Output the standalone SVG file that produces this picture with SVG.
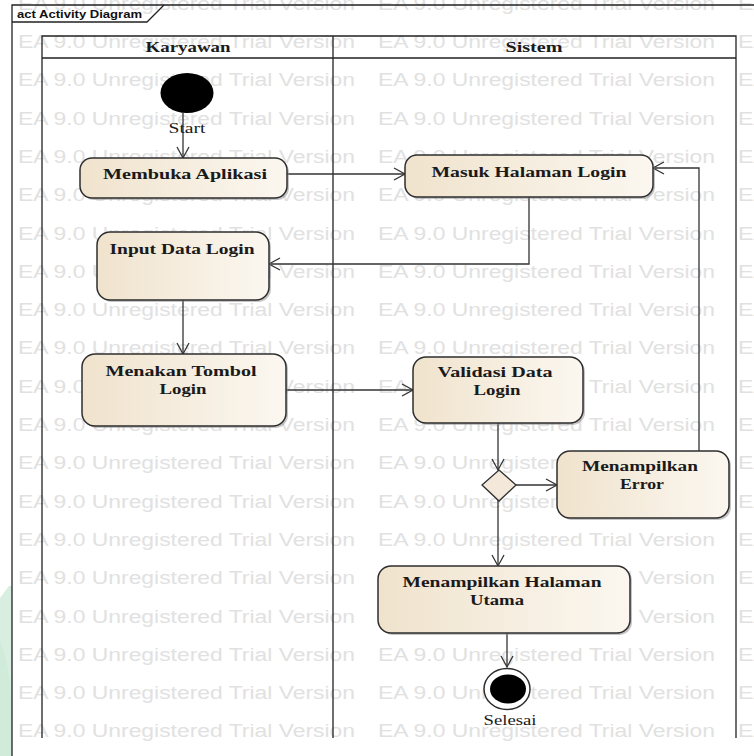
<svg xmlns="http://www.w3.org/2000/svg" xmlns:xlink="http://www.w3.org/1999/xlink" width="754" height="756" viewBox="0 0 754 756">
<style>
.wm{font-family:"Liberation Sans",Arial,sans-serif;font-size:18px;fill:#e1e1e1}
.lbl{font-family:"Liberation Serif","Times New Roman",serif;font-weight:bold;font-size:15.5px;fill:#1a1a1a;text-anchor:middle}
.reg{font-family:"Liberation Serif","Times New Roman",serif;font-size:15px;fill:#1a1a1a;text-anchor:middle}
.node{fill:url(#fillg);stroke:#2e2e2e;stroke-width:1.5}
.shadow{fill:#8c8c8c;opacity:.5}
.conn{fill:none;stroke:#333;stroke-width:1.3}
.frame{fill:none;stroke:#222;stroke-width:1.3}
</style>
<defs>
<linearGradient id="fillg" x1="0" y1="0" x2="1" y2="0">
<stop offset="0" stop-color="#f0e3cd"/>
<stop offset="1" stop-color="#fbf7f0"/>
</linearGradient>
<marker id="arr" markerUnits="userSpaceOnUse" markerWidth="14" markerHeight="14" refX="12" refY="7" orient="auto">
<path d="M1,1 L12,7 L1,13" fill="none" stroke="#333" stroke-width="1.3"/>
</marker>
<text id="wm" class="wm" textLength="337" lengthAdjust="spacingAndGlyphs">EA 9.0 Unregistered Trial Version</text>
</defs>
<rect width="754" height="756" fill="#fff"/>
<path d="M0,598 L9,586 L12,586 L12,756 L0,756 Z" fill="#d8eee0"/>
<path d="M0,640 Q8,660 12,700 L12,756 L0,756 Z" fill="#cfe9d8" opacity="0.7"/>
<g id="watermark">
<use xlink:href="#wm" x="18" y="9.7"/><use xlink:href="#wm" x="378" y="9.7"/><use xlink:href="#wm" x="738" y="9.7"/>
<use xlink:href="#wm" x="18" y="48"/><use xlink:href="#wm" x="378" y="48"/><use xlink:href="#wm" x="738" y="48"/>
<use xlink:href="#wm" x="18" y="86.3"/><use xlink:href="#wm" x="378" y="86.3"/><use xlink:href="#wm" x="738" y="86.3"/>
<use xlink:href="#wm" x="18" y="124.6"/><use xlink:href="#wm" x="378" y="124.6"/><use xlink:href="#wm" x="738" y="124.6"/>
<use xlink:href="#wm" x="18" y="162.9"/><use xlink:href="#wm" x="378" y="162.9"/><use xlink:href="#wm" x="738" y="162.9"/>
<use xlink:href="#wm" x="18" y="201.2"/><use xlink:href="#wm" x="378" y="201.2"/><use xlink:href="#wm" x="738" y="201.2"/>
<use xlink:href="#wm" x="18" y="239.5"/><use xlink:href="#wm" x="378" y="239.5"/><use xlink:href="#wm" x="738" y="239.5"/>
<use xlink:href="#wm" x="18" y="277.8"/><use xlink:href="#wm" x="378" y="277.8"/><use xlink:href="#wm" x="738" y="277.8"/>
<use xlink:href="#wm" x="18" y="316.1"/><use xlink:href="#wm" x="378" y="316.1"/><use xlink:href="#wm" x="738" y="316.1"/>
<use xlink:href="#wm" x="18" y="354.4"/><use xlink:href="#wm" x="378" y="354.4"/><use xlink:href="#wm" x="738" y="354.4"/>
<use xlink:href="#wm" x="18" y="392.7"/><use xlink:href="#wm" x="378" y="392.7"/><use xlink:href="#wm" x="738" y="392.7"/>
<use xlink:href="#wm" x="18" y="431"/><use xlink:href="#wm" x="378" y="431"/><use xlink:href="#wm" x="738" y="431"/>
<use xlink:href="#wm" x="18" y="469.3"/><use xlink:href="#wm" x="378" y="469.3"/><use xlink:href="#wm" x="738" y="469.3"/>
<use xlink:href="#wm" x="18" y="507.6"/><use xlink:href="#wm" x="378" y="507.6"/><use xlink:href="#wm" x="738" y="507.6"/>
<use xlink:href="#wm" x="18" y="545.9"/><use xlink:href="#wm" x="378" y="545.9"/><use xlink:href="#wm" x="738" y="545.9"/>
<use xlink:href="#wm" x="18" y="584.2"/><use xlink:href="#wm" x="378" y="584.2"/><use xlink:href="#wm" x="738" y="584.2"/>
<use xlink:href="#wm" x="18" y="622.5"/><use xlink:href="#wm" x="378" y="622.5"/><use xlink:href="#wm" x="738" y="622.5"/>
<use xlink:href="#wm" x="18" y="660.8"/><use xlink:href="#wm" x="378" y="660.8"/><use xlink:href="#wm" x="738" y="660.8"/>
<use xlink:href="#wm" x="18" y="699.1"/><use xlink:href="#wm" x="378" y="699.1"/><use xlink:href="#wm" x="738" y="699.1"/>
<use xlink:href="#wm" x="18" y="737.4"/><use xlink:href="#wm" x="378" y="737.4"/><use xlink:href="#wm" x="738" y="737.4"/>
</g>
<g id="frame">
<path class="frame" d="M12,756 L12,5 L754,5"/>
<path class="frame" d="M12,22 L147,22 L164,5"/>
<text x="17" y="18" font-family="Liberation Sans,Arial,sans-serif" font-weight="bold" font-size="11" fill="#111" textLength="125" lengthAdjust="spacingAndGlyphs">act Activity Diagram</text>
</g>
<g id="swimlanes">
<path class="frame" d="M42,738 L42,36 L736,36 L736,738 M42,58 L736,58 M333,36 L333,738"/>
<text class="lbl" x="188" y="52" textLength="85" lengthAdjust="spacingAndGlyphs">Karyawan</text>
<text class="lbl" x="534" y="52" textLength="57" lengthAdjust="spacingAndGlyphs">Sistem</text>
</g>
<g id="connectors">
<path class="conn" d="M183,113 L183,158" marker-end="url(#arr)"/>
<path class="conn" d="M287,174 L405,174" marker-end="url(#arr)"/>
<path class="conn" d="M529,197 L529,264 L269,264" marker-end="url(#arr)"/>
<path class="conn" d="M183,300 L183,354" marker-end="url(#arr)"/>
<path class="conn" d="M286,390 L413,390" marker-end="url(#arr)"/>
<path class="conn" d="M498,423 L498,470" marker-end="url(#arr)"/>
<path class="conn" d="M516,485 L557,485" marker-end="url(#arr)"/>
<path class="conn" d="M699,451 L699,168 L653,168" marker-end="url(#arr)"/>
<path class="conn" d="M498,500 L498,566" marker-end="url(#arr)"/>
<path class="conn" d="M507,633 L507,667" marker-end="url(#arr)"/>
</g>
<g id="start">
<ellipse cx="187" cy="93" rx="26.5" ry="20" fill="#000"/>
<text class="reg" x="187" y="133" textLength="37" lengthAdjust="spacingAndGlyphs">Start</text>
</g>
<g id="membuka">
<rect class="shadow" x="82" y="160" width="207" height="40" rx="12"/>
<rect class="node" x="80" y="158" width="207" height="40" rx="12"/>
<text class="lbl" x="185" y="179" textLength="164" lengthAdjust="spacingAndGlyphs">Membuka Aplikasi</text>
</g>
<g id="masuk">
<rect class="shadow" x="407" y="157" width="248" height="42" rx="12"/>
<rect class="node" x="405" y="155" width="248" height="42" rx="12"/>
<text class="lbl" x="529" y="177" textLength="195" lengthAdjust="spacingAndGlyphs">Masuk Halaman Login</text>
</g>
<g id="input">
<rect class="shadow" x="99" y="234" width="172" height="68" rx="13"/>
<rect class="node" x="97" y="232" width="172" height="68" rx="13"/>
<text class="lbl" x="182" y="254" textLength="145" lengthAdjust="spacingAndGlyphs">Input Data Login</text>
</g>
<g id="menakan">
<rect class="shadow" x="84" y="356" width="204" height="72" rx="13"/>
<rect class="node" x="82" y="354" width="204" height="72" rx="13"/>
<text class="lbl" x="181" y="376" textLength="151" lengthAdjust="spacingAndGlyphs">Menakan Tombol</text>
<text class="lbl" x="183" y="394" textLength="47" lengthAdjust="spacingAndGlyphs">Login</text>
</g>
<g id="validasi">
<rect class="shadow" x="415" y="359" width="170" height="66" rx="13"/>
<rect class="node" x="413" y="357" width="170" height="66" rx="13"/>
<text class="lbl" x="495" y="377" textLength="115" lengthAdjust="spacingAndGlyphs">Validasi Data</text>
<text class="lbl" x="497" y="395" textLength="47" lengthAdjust="spacingAndGlyphs">Login</text>
</g>
<g id="decision">
<polygon points="499,470 516,485 499,501 482,485" fill="#f3e8d9" stroke="#2e2e2e" stroke-width="1.3"/>
</g>
<g id="error">
<rect class="shadow" x="559" y="453" width="172" height="67" rx="13"/>
<rect class="node" x="557" y="451" width="172" height="67" rx="13"/>
<text class="lbl" x="640" y="471" textLength="116" lengthAdjust="spacingAndGlyphs">Menampilkan</text>
<text class="lbl" x="642" y="489" textLength="44" lengthAdjust="spacingAndGlyphs">Error</text>
</g>
<g id="utama">
<rect class="shadow" x="380" y="568" width="252" height="67" rx="13"/>
<rect class="node" x="378" y="566" width="252" height="67" rx="13"/>
<text class="lbl" x="502" y="587" textLength="199" lengthAdjust="spacingAndGlyphs">Menampilkan Halaman</text>
<text class="lbl" x="497" y="605" textLength="54" lengthAdjust="spacingAndGlyphs">Utama</text>
</g>
<g id="selesai">
<ellipse cx="507" cy="689" rx="23" ry="20.5" fill="#fff" stroke="#2e2e2e" stroke-width="1.5"/>
<ellipse cx="508" cy="689" rx="18" ry="14.5" fill="#000"/>
<text class="reg" x="510" y="725" textLength="53" lengthAdjust="spacingAndGlyphs">Selesai</text>
</g>
</svg>
